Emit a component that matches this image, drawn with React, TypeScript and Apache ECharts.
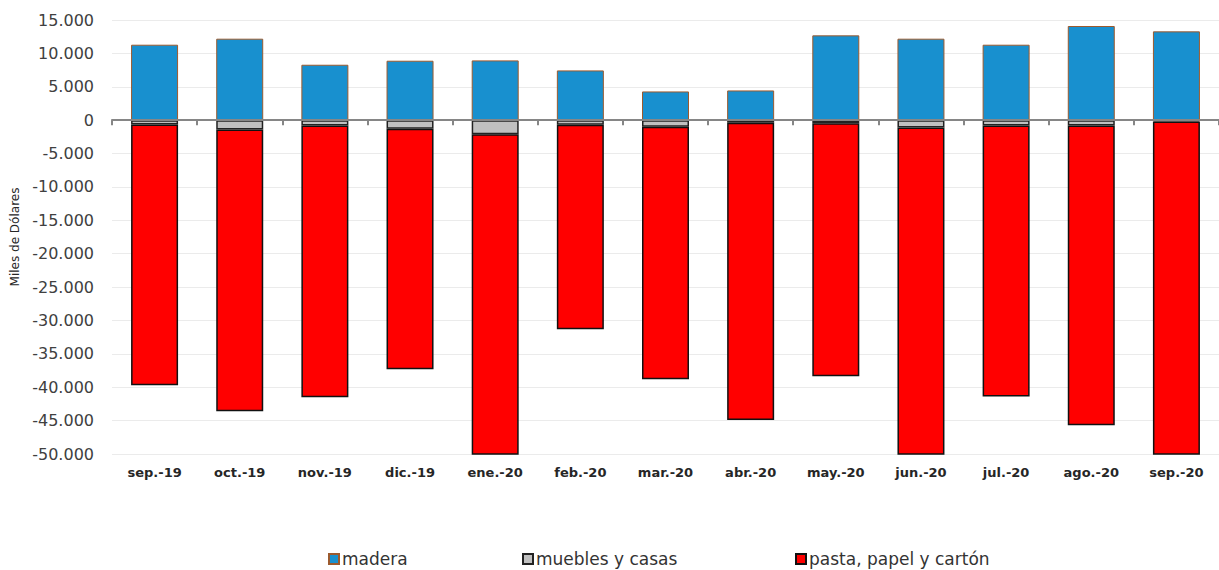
import React, { useEffect, useRef } from "react";
import * as echarts from "echarts";

const categories = [
  "sep.-19", "oct.-19", "nov.-19", "dic.-19", "ene.-20", "feb.-20", "mar.-20",
  "abr.-20", "may.-20", "jun.-20", "jul.-20", "ago.-20", "sep.-20",
];
const madera = [11300, 12200, 8300, 8900, 8950, 7450, 4300, 4450, 12700, 12200, 11300, 14100, 13300];
const muebles = [-650, -1400, -800, -1300, -2100, -700, -1000, -400, -450, -1100, -800, -800, -200];
const pasta = [-39050, -42200, -40700, -36000, -52000, -30600, -37800, -44500, -37900, -52000, -40600, -44900, -54000];
const seriesNames = ["madera", "muebles y casas", "pasta, papel y cartón"];
const yTicks = { min: -50000, max: 15000, interval: 5000 };

const FONT = "DejaVu Sans";

function fmt(v: number): string {
  const s = Math.abs(v).toString().replace(/\B(?=(\d{3})+(?!\d))/g, ".");
  return (v < 0 ? "-" : "") + s;
}

export default function App() {
  const ref = useRef<HTMLDivElement>(null);
  useEffect(() => {
    document.body.style.margin = "0";
    const chart = echarts.init(ref.current!, undefined, { renderer: "svg" });
    const legendStyle = (left: number, name: string) => ({
      left,
      top: 550,
      data: [name],
      icon: "rect",
      itemWidth: 10,
      itemHeight: 10,
      itemGap: 4,
      padding: 0,
      textStyle: { fontFamily: FONT, fontSize: 17, lineHeight: 18, color: "#333", padding: [0, 0, 0, -2] },
      selectedMode: false,
    });
    chart.setOption({
      animation: false,
      textStyle: { fontFamily: FONT },
      grid: { left: 112, top: 20, width: 1114, height: 434, containLabel: false },
      legend: [
        legendStyle(328, seriesNames[0]),
        legendStyle(522, seriesNames[1]),
        legendStyle(795, seriesNames[2]),
      ],
      xAxis: [
        {
          type: "category",
          data: categories,
          position: "bottom",
          axisLine: { show: true, onZero: true, lineStyle: { color: "#868686", width: 2 } },
          axisTick: { show: true, length: 5, lineStyle: { color: "#868686", width: 2 } },
          axisLabel: { show: false },
          splitLine: { show: false },
          z: 10,
        },
        {
          type: "category",
          data: categories,
          position: "bottom",
          axisLine: { show: false, onZero: false },
          axisTick: { show: false },
          axisLabel: {
            show: true,
            margin: 12,
            fontFamily: FONT,
            fontSize: 13,
            fontWeight: "bold",
            color: "#262626",
          },
        },
      ],
      yAxis: {
        type: "value",
        min: yTicks.min,
        max: yTicks.max,
        interval: yTicks.interval,
        name: "Miles de Dólares",
        nameLocation: "middle",
        nameRotate: 90,
        nameGap: 90,
        nameTextStyle: { fontFamily: FONT, fontSize: 12, color: "#262626" },
        axisLine: { show: false },
        axisTick: { show: false },
        axisLabel: {
          margin: 18,
          fontFamily: FONT,
          fontSize: 16,
          color: "#404040",
          formatter: (v: number) => fmt(v),
        },
        splitLine: { show: true, lineStyle: { color: "#ebebeb", width: 1 } },
      },
      series: [
        {
          name: seriesNames[0],
          type: "bar",
          stack: "total",
          data: madera,
          barWidth: 47,
          itemStyle: { color: "#1890cf", borderColor: "#9c5a2e", borderWidth: 1 },
        },
        {
          name: seriesNames[1],
          type: "bar",
          stack: "total",
          data: muebles,
          barWidth: 47,
          itemStyle: { color: "#c0c0c0", borderColor: "#222", borderWidth: 1.5 },
        },
        {
          name: seriesNames[2],
          type: "bar",
          stack: "total",
          data: pasta,
          barWidth: 47,
          clip: true,
          itemStyle: { color: "#ff0000", borderColor: "#111", borderWidth: 1.5 },
        },
      ],
    });
    return () => chart.dispose();
  }, []);
  return (
    <div
      ref={ref}
      style={{ position: "absolute", left: 0, top: 0, width: 1219, height: 570, overflow: "hidden" }}
    />
  );
}
